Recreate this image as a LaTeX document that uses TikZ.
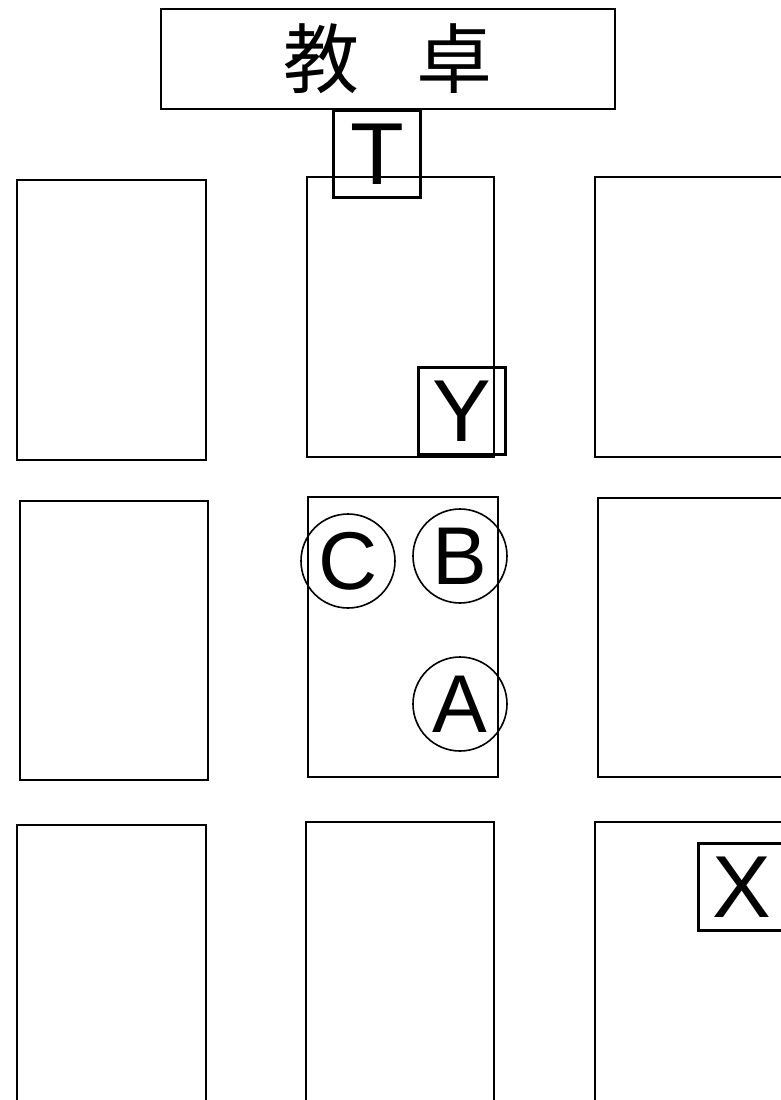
\documentclass[tikz,border=0pt]{standalone}
\usepackage{fontspec}
\setmainfont{Liberation Sans}
\newfontfamily\cjk{Noto Sans CJK JP}
\usetikzlibrary{positioning}

\tikzset{
  desk/.style={draw, line width=2.2pt},
  seatbox/.style={draw, line width=3pt, minimum size=87pt, inner sep=0pt,
    font=\fontsize{88}{88}\selectfont},
  seatring/.style={draw, circle, line width=1.6pt, minimum size=94pt, inner sep=0pt,
    font=\fontsize{82}{82}\selectfont}
}

\begin{document}
\begin{tikzpicture}[x=1pt, y=-1pt]
    \useasboundingbox (0,0) rectangle (781,1100);

    % Teacher's desk at the front
    \node[desk, minimum width=454pt, minimum height=100pt, inner sep=0pt,
          font=\cjk\fontsize{76}{76}\selectfont] (podium) at (388,59) {教\hspace{58pt}卓};

    % First row of desks
    \draw[desk] (17,180) rectangle (206,460);
    \draw[desk] (307,177) rectangle (494,457);
    \draw[desk] (595,177) rectangle (790,457);

    % Second row of desks
    \draw[desk] (20,501) rectangle (208,780);
    \draw[desk] (308,497) rectangle (498,777);
    \draw[desk] (598,498) rectangle (790,777);

    % Third row of desks
    \draw[desk] (17,825) rectangle (206,1110);
    \draw[desk] (306,822) rectangle (494,1110);
    \draw[desk] (595,822) rectangle (790,1110);

    % Teacher and the two marked seats
    \node[seatbox] (T) at (377,154) {T};
    \node[seatbox] (Y) at (462,411) {Y};
    \node[seatbox] (X) at (742,887) {X};

    % Circled students
    \node[seatring] (C) at (348,561) {C};
    \node[seatring] (B) at (460,556) {B};
    \node[seatring] (A) at (460,704) {A};

\end{tikzpicture}
\end{document}
